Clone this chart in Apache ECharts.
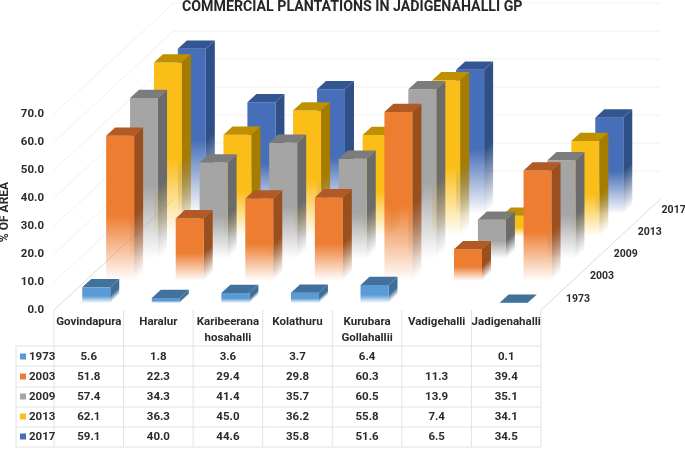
<!DOCTYPE html>
<html>
<head>
<meta charset="utf-8">
<style>html,body{margin:0;padding:0;background:#fff}#c{width:685px;height:449px}</style>
<script src="https://cdn.jsdelivr.net/npm/echarts@6/dist/echarts.min.js"></script>
</head>
<body>
<div id="c"></div>
<script>
const villages = ['Govindapura','Haralur','Karibeerana\nhosahalli','Kolathuru','Kurubara\nGollahallii','Vadigehalli','Jadigenahalli'];
const years = ['1973','2003','2009','2013','2017'];
const yTicks = [0,10,20,30,40,50,60,70];
const v1973 = [5.6,1.8,3.6,3.7,6.4,null,0.1];
const v2003 = [51.8,22.3,29.4,29.8,60.3,11.3,39.4];
const v2009 = [57.4,34.3,41.4,35.7,60.5,13.9,35.1];
const v2013 = [62.1,36.3,45.0,36.2,55.8,7.4,34.1];
const v2017 = [59.1,40.0,44.6,35.8,51.6,6.5,34.5];
const rows = [v1973,v2003,v2009,v2013,v2017];

const front = ['#5B9BD5','#ED7D31','#A5A5A5','#FBBD17','#476EB8'];
const topC  = ['#41719C','#B15A25','#7C7C7C','#BF9000','#335693'];
const sideC = ['#3F6E98','#9A4F1E','#6B6B6B','#A67C00','#2F4F86'];

const FONT = 'Roboto,"Open Sans",sans-serif';
const TXT = '#2b2b2b';
const LABEL = 11.5;
const GL = 54, GT = 114, GW = 487, GH = 196;
const DX = 119.5, DY = 111, ROWDX = DX/5, ROWDY = DY/5, BDX = 9, BDY = 8.3, BW = 28;

function rgba(hex,a){
  const n = parseInt(hex.slice(1),16);
  return 'rgba('+(n>>16)+','+((n>>8)&255)+','+(n&255)+','+a+')';
}
function fade(c,x,y,x2,y2){
  return new echarts.graphic.LinearGradient(x,y,x2,y2,[
    {offset:0,color:rgba(c,1)},{offset:0.55,color:rgba(c,1)},{offset:1,color:rgba(c,0)}
  ],true);
}
function barSeries(r){
  const data = rows[r].map((v,i)=>[i,v]).filter(d=>d[1]!==null);
  return {
    type:'custom', name:years[r], data:data, clip:false, silent:true,
    encode:{x:0,y:1},
    renderItem(params,api){
      const i = api.value(0), v = api.value(1);
      const t = api.coord([i,v]), b = api.coord([i,0]);
      const ox = (r+0.5)*ROWDX-BDX/2, oy = (r+0.5)*ROWDY-BDY/2;
      const x0 = t[0]+ox-BW/2, x1 = x0+BW, yt = t[1]-oy, yb = b[1]-oy;
      const h = yb-yt;
      const nl = Math.hypot(BDX,BDY), nx = BDY/nl, ny = BDX/nl, pl = h*ny;
      return {type:'group',children:[
        {type:'polygon',shape:{points:[[x1,yt],[x1+BDX,yt-BDY],[x1+BDX,yb-BDY],[x1,yb]]},
          style:{fill:fade(sideC[r],x1,yt,x1+nx*pl,yt+ny*pl)}},
        {type:'rect',shape:{x:x0,y:yt,width:BW,height:h},
          style:{fill:fade(front[r],x0,yt,x0,yb)}},
        {type:'polygon',shape:{points:[[x0,yt],[x1,yt],[x1+BDX,yt-BDY],[x0+BDX,yt-BDY]]},
          style:{fill:topC[r]}}
      ]};
    }
  };
}
const wallSeries = {
  type:'custom', name:'walls', data:yTicks.map(v=>[0,v]), clip:false, silent:true,
  encode:{x:0,y:1},
  renderItem(params,api){
    const v = api.value(1), p = api.coord([0,v]), s = api.size([1,0])[0];
    const xl = p[0]-s/2, xr = xl+s*villages.length, y = p[1];
    const col = v===0 ? '#dcdcdc' : '#f1f1f1';
    const kids = [{type:'line',shape:{x1:xl,y1:y,x2:xl+DX,y2:y-DY},style:{stroke:col,lineWidth:1}}];
    if(v>0) kids.push({type:'line',shape:{x1:xl+DX,y1:y-DY,x2:xr+DX,y2:y-DY},style:{stroke:col,lineWidth:1}});
    else kids.push({type:'line',shape:{x1:xr,y1:y,x2:xr+DX,y2:y-DY},style:{stroke:col,lineWidth:1}});
    return {type:'group',children:kids};
  }
};

const gfx = [];
const lineCol = '#e2e2e2';
const colX = villages.map((_,i)=>GL+GW*(i+0.5)/villages.length);
const rowLines = [346,366,387,407,427,447];
const rowText = [357,377,397,417,437];
function ln(x1,y1,x2,y2){gfx.push({type:'line',silent:true,shape:{x1,y1,x2,y2},style:{stroke:lineCol,lineWidth:1}});}
function tx(x,y,t,align,size){gfx.push({type:'text',silent:true,x,y,style:{text:t,fill:TXT,font:'bold '+(size||LABEL)+'px '+FONT,align:align,verticalAlign:'middle'}});}
rowLines.forEach(y=>ln(16,y,GL+GW,y));
ln(16,346,16,447);
for(let i=0;i<=villages.length;i++){const x=GL+GW*i/villages.length;ln(x,310,x,447);}
years.forEach((yr,r)=>{
  gfx.push({type:'rect',silent:true,shape:{x:20,y:rowText[r]-3.5,width:6,height:6},style:{fill:front[r]}});
  tx(29,rowText[r],yr,'left');
  rows[r].forEach((v,i)=>{ if(v!==null) tx(colX[i],rowText[r],v.toFixed(1),'center'); });
  tx(GL+GW+25+r*ROWDX,299-r*ROWDY,yr,'left',10.5);
});

const chart = echarts.init(document.getElementById('c'),null,{renderer:'canvas'});
chart.setOption({
  animation:false,
  backgroundColor:'#fff',
  title:{text:'COMMERCIAL PLANTATIONS IN JADIGENAHALLI GP',left:182,top:0,padding:0,
    textStyle:{fontFamily:FONT,fontWeight:'bold',fontSize:14.2,lineHeight:14,color:'#262626'}},
  grid:{left:GL,top:GT,width:GW,height:GH,outerBoundsMode:'none'},
  xAxis:{type:'category',data:villages,axisLine:{show:false},axisTick:{show:false},splitLine:{show:false},
    axisLabel:{interval:0,margin:4,hideOverlap:false,fontFamily:FONT,fontWeight:'bold',fontSize:LABEL,lineHeight:16,color:TXT,verticalAlign:'top'}},
  yAxis:{type:'value',min:0,max:70,interval:10,axisLine:{show:false},axisTick:{show:false},splitLine:{show:false},
    name:'% OF AREA',nameLocation:'middle',nameGap:43,nameMoveOverlap:false,
    nameTextStyle:{fontFamily:FONT,fontWeight:'bold',fontSize:12,color:TXT},
    axisLabel:{margin:10,formatter:v=>v.toFixed(1),fontFamily:FONT,fontWeight:'bold',fontSize:LABEL,color:TXT}},
  graphic:{elements:gfx},
  series:[wallSeries,barSeries(4),barSeries(3),barSeries(2),barSeries(1),barSeries(0)]
});
</script>
</body>
</html>
